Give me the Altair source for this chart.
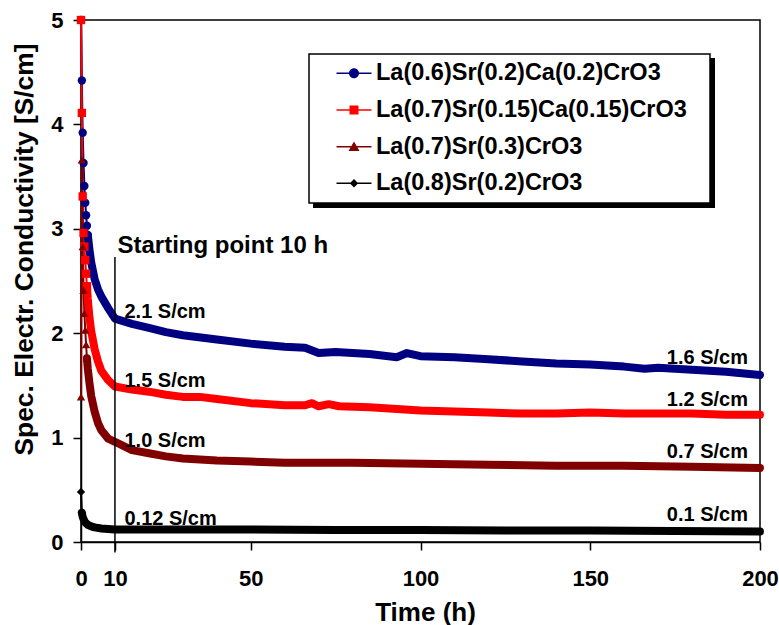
import altair as alt
import pandas as pd

# ---- series ----
series_names = [
    "La(0.6)Sr(0.2)Ca(0.2)CrO3",
    "La(0.7)Sr(0.15)Ca(0.15)CrO3",
    "La(0.7)Sr(0.3)CrO3",
    "La(0.8)Sr(0.2)CrO3",
]

# La(0.6)Sr(0.2)Ca(0.2)CrO3
time_lscc_622 = [0, 0.25, 0.5, 0.75, 1.0, 1.25, 1.5, 1.75, 2.0,
                 2.5, 3, 4, 5, 6, 8, 10,
                 15, 20, 25, 30, 40, 50, 60,
                 66, 70, 75, 85, 93, 96, 100,
                 110, 120, 130, 140, 150, 160,
                 166, 170, 180, 190, 200]
cond_lscc_622 = [5.0, 4.42, 3.92, 3.63, 3.41, 3.25, 3.13, 3.03, 2.94,
                 2.80, 2.68, 2.52, 2.42, 2.35, 2.24, 2.14,
                 2.09, 2.05, 2.01, 1.98, 1.94, 1.90, 1.87,
                 1.86, 1.81, 1.82, 1.80, 1.77, 1.81, 1.78,
                 1.77, 1.75, 1.73, 1.71, 1.70, 1.68,
                 1.66, 1.67, 1.65, 1.63, 1.60]

# La(0.7)Sr(0.15)Ca(0.15)CrO3
time_lscc_7 = [0, 0.25, 0.5, 0.75, 1.0, 1.25, 1.5, 1.75, 2.0,
               2.5, 3, 4, 5, 6, 8, 10,
               15, 20, 25, 30, 35, 40, 50, 60,
               66, 68, 70, 73, 76, 85,
               100, 110, 120, 130, 140, 150, 160,
               170, 180, 190, 200]
cond_lscc_7 = [5.0, 4.11, 3.31, 2.96, 2.83, 2.70, 2.57, 2.45, 2.33,
               2.15, 2.02, 1.85, 1.73, 1.64, 1.55, 1.49,
               1.46, 1.44, 1.41, 1.39, 1.39, 1.37, 1.33, 1.31,
               1.31, 1.33, 1.30, 1.32, 1.30, 1.29,
               1.26, 1.25, 1.24, 1.23, 1.23, 1.24, 1.23,
               1.23, 1.23, 1.22, 1.22]

# La(0.7)Sr(0.3)CrO3
time_lsc_73 = [0, 0.25, 0.5, 0.75, 1.0, 1.25, 1.5, 1.75, 2.0,
               2.5, 3, 4, 5, 6, 8, 10,
               15, 20, 25, 30, 40, 50, 60,
               80, 100, 120, 140, 160, 180, 200]
cond_lsc_73 = [1.39, 3.66, 2.83, 2.41, 2.19, 2.03, 1.89, 1.76, 1.66,
               1.52, 1.40, 1.25, 1.14, 1.07, 0.99, 0.96,
               0.88, 0.85, 0.82, 0.80, 0.78, 0.77, 0.76,
               0.76, 0.75, 0.74, 0.73, 0.73, 0.72, 0.71]

# La(0.8)Sr(0.2)CrO3
time_lsc_82 = [0, 0.25, 0.5, 1.0, 1.5, 2, 3, 4, 6, 8,
               10, 20, 30, 50, 75, 100, 125, 150, 175, 200]
cond_lsc_82 = [0.48, 0.28, 0.24, 0.20, 0.18, 0.165, 0.15, 0.14, 0.13, 0.125,
               0.12, 0.12, 0.12, 0.12, 0.115, 0.115, 0.11, 0.11, 0.105, 0.10]

# values written next to the curves at 10 h and 200 h
start_labels = ["2.1 S/cm", "1.5 S/cm", "1.0 S/cm", "0.12 S/cm"]
start_values = [2.1, 1.5, 1.0, 0.12]
end_labels = ["1.6 S/cm", "1.2 S/cm", "0.7 S/cm", "0.1 S/cm"]
end_values = [1.6, 1.2, 0.7, 0.1]

start_time = 10
start_text = "Starting point 10 h"

# ---- styling ----
FONT = "Liberation Sans"
series_colors = ["#000080", "#FF0000", "#800000", "#000000"]
series_markers = ["circle", "square", "triangle-up", "diamond"]
# from this time on the measured points are so dense they merge into a band
band_from = [2.0, 1.75, 1.75, 0.25]
start_label_dy = [-5, 2, 9, -4]

# legend symbols: a short line with the marker on top (units of 5 px);
# the empty sub-path far to the right only widens the legend box
legend_line = "M-3.5,-0.15H3.5V0.15H-3.5Z"
legend_pad = "M69.7,0Z"
legend_symbols = [
    legend_line + "M1,0A1,1,0,1,1,-1,0A1,1,0,1,1,1,0Z" + legend_pad,
    legend_line + "M-0.9,-0.9H0.9V0.9H-0.9Z" + legend_pad,
    legend_line + "M0,-1.05L1.1,0.85H-1.1Z" + legend_pad,
    legend_line + "M0,-0.85L0.85,0L0,0.85L-0.85,0Z" + legend_pad,
]

times = [time_lscc_622, time_lscc_7, time_lsc_73, time_lsc_82]
values = [cond_lscc_622, cond_lscc_7, cond_lsc_73, cond_lsc_82]

rows = []
for name, color, marker, bf, ts, vs in zip(series_names, series_colors, series_markers,
                                           band_from, times, values):
    for t, v in zip(ts, vs):
        rows.append({"series": name, "color": color, "marker": marker,
                     "t": t, "value": v, "band": t >= bf, "dot": t <= bf})
df = pd.DataFrame(rows)

x_scale = alt.Scale(domain=[0, 200], nice=False, zero=False)
y_scale = alt.Scale(domain=[0, 5], nice=False)

x_axis = alt.Axis(
    values=[0, 10, 50, 100, 150, 200], format="d", grid=False,
    labelFont=FONT, labelFontSize=22, labelFontWeight="bold", labelColor="black",
    labelPadding=18, labelOverlap=False, labelFlush=False,
    tickSize=8, tickWidth=1.5, tickColor="black",
    domainColor="black", domainWidth=1.5,
    title="Time (h)", titleFont=FONT, titleFontSize=26, titleFontWeight="bold",
    titleColor="black", titleX=344, titleY=78, titleBaseline="alphabetic",
)
y_axis = alt.Axis(
    values=[0, 1, 2, 3, 4, 5], format="d", grid=False,
    labelFont=FONT, labelFontSize=22, labelFontWeight="bold", labelColor="black",
    labelPadding=10, tickSize=8, tickWidth=1.5, tickColor="black",
    domainColor="black", domainWidth=1.5,
    title="Spec. Electr. Conductivity [S/cm]", titleFont=FONT, titleFontSize=26.4,
    titleFontWeight="bold", titleColor="black", titleAngle=270, titleLimit=800,
    titleX=-49, titleY=229, titleBaseline="alphabetic",
)

X = alt.X("t:Q", scale=x_scale, axis=x_axis)
Y = alt.Y("value:Q", scale=y_scale, axis=y_axis)
base = alt.Chart(df).encode(x=X, y=Y)
raw_color = alt.Color("color:N", scale=None)

thin_lines = base.mark_line(strokeWidth=2).encode(color=raw_color, detail="series:N")
bands = base.transform_filter("datum.band").mark_line(
    strokeWidth=8, strokeCap="round", strokeJoin="round"
).encode(color=raw_color, detail="series:N")
dots = base.transform_filter("datum.dot").mark_point(
    filled=True, size=70, opacity=1
).encode(color=raw_color, shape=alt.Shape("marker:N", scale=None))

# vertical marker of the starting point
start_rule = alt.Chart(pd.DataFrame({"t": [start_time], "value": [2.73], "low": [-0.1]})).mark_rule(
    color="black", strokeWidth=1.5
).encode(x="t:Q", y="value:Q", y2="low:Q")
start_note = alt.Chart(pd.DataFrame({"t": [start_time], "value": [2.77], "label": [start_text]})).mark_text(
    font=FONT, fontSize=24, fontWeight="bold", color="black", align="left",
    baseline="alphabetic", dx=2.5
).encode(x="t:Q", y="value:Q", text="label:N")

start_value_layers = []
for lab, val, dy in zip(start_labels, start_values, start_label_dy):
    start_value_layers.append(
        alt.Chart(pd.DataFrame({"t": [start_time], "value": [val], "label": [lab]})).mark_text(
            font=FONT, fontSize=20, fontWeight="bold", color="black", align="left",
            baseline="alphabetic", dx=9.5, dy=dy
        ).encode(x="t:Q", y="value:Q", text="label:N")
    )

end_values_layer = alt.Chart(pd.DataFrame({"t": [200] * 4, "value": end_values, "label": end_labels})).mark_text(
    font=FONT, fontSize=20, fontWeight="bold", color="black", align="right",
    baseline="alphabetic", dx=-12, dy=-10.5
).encode(x="t:Q", y="value:Q", text="label:N")

# legend with a drop shadow behind its box
legend_spec = alt.Legend(
    orient="none", legendX=228, legendY=34, title=None, direction="vertical",
    labelFont=FONT, labelFontSize=23.5, labelFontWeight="bold", labelColor="black",
    labelLimit=500, labelOffset=10.25,
    symbolOffset=25.75, symbolSize=100, symbolStrokeWidth=0, symbolOpacity=1,
    rowPadding=11.7, padding=7.5, strokeColor="black", fillColor="white",
)
legend_df = pd.DataFrame({"series": series_names, "t": [0] * 4, "value": [0] * 4})
legend_layer = alt.Chart(legend_df).mark_point(filled=True, opacity=0).encode(
    x="t:Q", y="value:Q",
    color=alt.Color("series:N", scale=alt.Scale(domain=series_names, range=series_colors),
                    legend=legend_spec),
    shape=alt.Shape("series:N", scale=alt.Scale(domain=series_names, range=legend_symbols),
                    legend=legend_spec),
)
shadow = alt.Chart(pd.DataFrame({"k": [0]})).mark_rect(color="black").encode(
    x=alt.value(232), x2=alt.value(634), y=alt.value(38), y2=alt.value(188)
)

chart = alt.layer(
    shadow, thin_lines, bands, dots, start_rule, start_note,
    *start_value_layers, end_values_layer, legend_layer,
).properties(
    width=679, height=522,
    autosize=alt.AutoSizeParams(type="none"),
    padding={"left": 81, "top": 20, "right": 19, "bottom": 83},
    background="white",
).configure(font=FONT).configure_view(
    stroke="black", strokeWidth=1.5
).configure_legend(strokeWidth=1.5)

chart.save("out.html", embed_options={"renderer": "svg", "actions": False})
